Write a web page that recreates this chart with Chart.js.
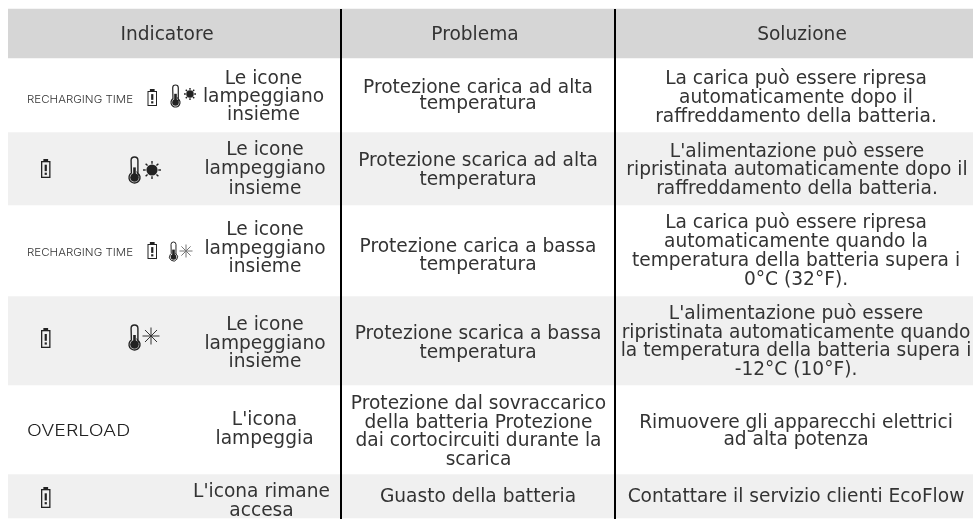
<!DOCTYPE html>
<html><head><meta charset="utf-8">
<style>html,body{margin:0;padding:0;background:#fff}canvas{display:block}</style>
<script src="https://cdn.jsdelivr.net/npm/chart.js@4"></script>
</head><body><canvas id="c" width="973" height="519"></canvas>
<script>
const headers = ["Indicatore","Problema","Soluzione"];
const indicatorState = [
 ["Le icone","lampeggiano","insieme"],
 ["Le icone","lampeggiano","insieme"],
 ["Le icone","lampeggiano","insieme"],
 ["Le icone","lampeggiano","insieme"],
 ["L'icona","lampeggia"],
 ["L'icona rimane","accesa"]];
const problems = [
 ["Protezione carica ad alta","temperatura"],
 ["Protezione scarica ad alta","temperatura"],
 ["Protezione carica a bassa","temperatura"],
 ["Protezione scarica a bassa","temperatura"],
 ["Protezione dal sovraccarico","della batteria Protezione","dai cortocircuiti durante la","scarica"],
 ["Guasto della batteria"]];
const solutions = [
 ["La carica può essere ripresa","automaticamente dopo il","raffreddamento della batteria."],
 ["L'alimentazione può essere","ripristinata automaticamente dopo il","raffreddamento della batteria."],
 ["La carica può essere ripresa","automaticamente quando la","temperatura della batteria supera i","0°C (32°F)."],
 ["L'alimentazione può essere","ripristinata automaticamente quando","la temperatura della batteria supera i","-12°C (10°F)."],
 ["Rimuovere gli apparecchi elettrici","ad alta potenza"],
 ["Contattare il servizio clienti EcoFlow"]];
const rowEdges = [9,58,132,205,296,385,474,518];
const rowFills = ["#d6d6d6","#ffffff","#f0f0f0","#ffffff","#f0f0f0","#ffffff","#f0f0f0"];
const dividers = [341,615];
const iconLabels = ["RECHARGING TIME",null,"RECHARGING TIME",null,"OVERLOAD",null];

const font = '"DejaVu Sans"';
const textColor = "#333333";
const headCenters = [167,475,802];
const colCenters = [
 [263.5,265,265,265,264.5,261.5],
 [478,478,478,478,478.5,478],
 [796,797,796,796,796,796]];
const baselines = [
 [[84,102,120],[155,174,194],[235,254,272],[330,349,367],[425,444],[497,516]],
 [[93,109],[166,185],[252,270],[339,358],[409,428,446,465],[502]],
 [[84,103,122],[157,175,194],[228,247,266,285],[319,338,356,375],[428,445],[502]]];

function battery(ctx,x,y,w,h,lw){
  ctx.strokeStyle="#222";ctx.fillStyle="#222";ctx.lineWidth=lw;
  ctx.strokeRect(x+lw/2,y+2+lw/2,w-lw,h-2-lw);
  ctx.fillRect(x+w*.25,y,w*.5,2);
  const s=2.2;
  ctx.fillRect(x+w/2-s/2,y+h*.3,s,h*.34);
  ctx.fillRect(x+w/2-s/2,y+h*.72,s,2.2);
}
function thermo(ctx,cx,top,h,r,color,lw){
  const w=r*.62;
  ctx.strokeStyle=color;ctx.fillStyle=color;ctx.lineWidth=lw;
  const by=top+h-r;
  ctx.beginPath();
  ctx.arc(cx,top+w,w,Math.PI,0);
  ctx.lineTo(cx+w,by-r*.7);
  ctx.arc(cx,by,r,-Math.PI/2+.6,Math.PI*1.5-.6);
  ctx.closePath();ctx.stroke();
  ctx.beginPath();ctx.arc(cx,by,r-1.2,0,Math.PI*2);ctx.fill();
  ctx.fillRect(cx-1.3,top+h*.4,2.6,h*.45);
}
function sun(ctx,cx,cy,r,color){
  ctx.fillStyle=color;ctx.strokeStyle=color;ctx.lineWidth=1.4;
  ctx.beginPath();ctx.arc(cx,cy,r*.62,0,Math.PI*2);ctx.fill();
  for(let i=0;i<8;i++){const a=i*Math.PI/4;
    ctx.beginPath();ctx.moveTo(cx+Math.cos(a)*r*.7,cy+Math.sin(a)*r*.7);
    ctx.lineTo(cx+Math.cos(a)*r,cy+Math.sin(a)*r);ctx.stroke();}
}
function snow(ctx,cx,cy,r,color){
  ctx.strokeStyle=color;ctx.lineWidth=1;
  for(let i=0;i<4;i++){const a=i*Math.PI/4;
    const ca=Math.cos(a),sa=Math.sin(a);
    ctx.beginPath();ctx.moveTo(cx-ca*r,cy-sa*r);ctx.lineTo(cx+ca*r,cy+sa*r);ctx.stroke();
  }
}
function stretched(ctx,text,x,y,sx){
  ctx.save();ctx.translate(x,y);ctx.scale(sx,1);ctx.fillText(text,0,0);ctx.restore();
}

const tablePlugin = {
  id:"table",
  afterDatasetsDraw(chart){
    const ctx=chart.ctx, X=chart.scales.xl, Y=chart.scales.y;
    const px=v=>X.getPixelForValue(v), py=v=>Y.getPixelForValue(v);
    ctx.save();
    ctx.textAlign="center";ctx.textBaseline="alphabetic";ctx.fillStyle=textColor;
    ctx.font="18.6px "+font;
    headers.forEach((t,i)=>ctx.fillText(t,px(headCenters[i]),py(40)));
    [indicatorState,problems,solutions].forEach((col,c)=>{
      col.forEach((lines,r)=>{
        lines.forEach((t,l)=>ctx.fillText(t,px(colCenters[c][r]),py(baselines[c][r][l])));
      });
    });
    ctx.textAlign="left";
    ctx.font='300 10.6px Inter';ctx.fillStyle="#333";
    stretched(ctx,iconLabels[0],px(27),py(102.7),1.09);
    stretched(ctx,iconLabels[2],px(27),py(256),1.09);
    ctx.font='300 15.5px Inter';ctx.fillStyle="#222";
    stretched(ctx,iconLabels[4],px(27),py(436),1.26);
    battery(ctx,px(147.5),py(89),9.5,17,1);
    battery(ctx,px(41),py(159),9.5,19,1.3);
    battery(ctx,px(147.5),py(242),9.5,17,1);
    battery(ctx,px(41),py(328),9.5,20,1.3);
    battery(ctx,px(41),py(487),9.5,21,1.3);
    thermo(ctx,px(175.5),py(85),22,4.5,"#222",1.2);
    sun(ctx,px(190),py(94),6,"#222");
    thermo(ctx,px(134.5),py(157),26,5.5,"#222",1.4);
    sun(ctx,px(152),py(170),9,"#222");
    thermo(ctx,px(173.5),py(242),19,4,"#222",1);
    snow(ctx,px(186),py(251),6.5,"#777");
    thermo(ctx,px(134.5),py(325),25,5.5,"#222",1.4);
    snow(ctx,px(151),py(336),8.5,"#333");
    ctx.restore();
  }
};

const rowDatasets = rowFills.map((fill,i)=>({
  type:"bar",data:[[rowEdges[i],rowEdges[i+1]]],backgroundColor:fill,borderWidth:0,
  xAxisID:"x",yAxisID:"y",barPercentage:1,categoryPercentage:1,grouped:false,order:2
}));
const dividerDatasets = dividers.map(v=>({
  type:"scatter",showLine:true,data:[{x:v,y:rowEdges[0]},{x:v,y:519}],borderColor:"#000",borderWidth:2,
  pointRadius:0,xAxisID:"xl",yAxisID:"y",order:1
}));
new Chart(document.getElementById("c"),{
  data:{labels:["table"],datasets:[...rowDatasets,...dividerDatasets]},
  plugins:[tablePlugin],
  options:{
    responsive:false,animation:false,
    layout:{padding:{left:8,right:0,top:0,bottom:0}},
    plugins:{legend:{display:false},tooltip:{enabled:false}},
    scales:{
      x:{type:"category",display:false,offset:true},
      xl:{type:"linear",display:false,min:8,max:973},
      y:{type:"linear",display:false,min:0,max:519,reverse:true}
    }
  }
});
</script></body></html>
